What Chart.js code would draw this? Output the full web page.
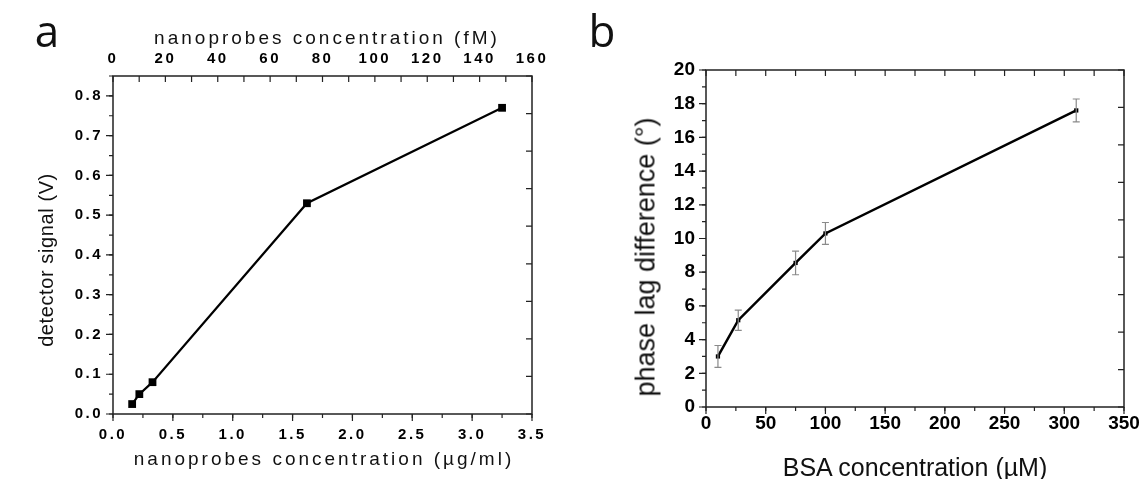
<html>
<head>
<script src="https://cdn.jsdelivr.net/npm/chart.js@4.4.1/dist/chart.umd.min.js"></script>
<style>
 body { margin:0; background:#fff; width:1141px; height:479px; overflow:hidden; position:relative; font-family:"Liberation Sans", Arial, sans-serif; color:#111; }
 .box { position:absolute; top:0; height:479px; }
 .lbl { position:absolute; white-space:nowrap; transform:translate(-50%,-50%); }
 .rot { transform:translate(-50%,-50%) rotate(-90deg); }
</style>
<script>
 // panel a : detector signal vs nanoprobes concentration
 var concA = [0.16, 0.22, 0.33, 1.62, 3.25];      // µg/ml
 var signalA = [0.025, 0.05, 0.08, 0.53, 0.77];   // V
 var xTicksA = [0, 0.5, 1.0, 1.5, 2.0, 2.5, 3.0, 3.5];
 var fmTicksA = [0, 20, 40, 60, 80, 100, 120, 140, 160];
 var yTicksA = [0, 0.1, 0.2, 0.3, 0.4, 0.5, 0.6, 0.7, 0.8];

 // panel b : phase lag difference vs BSA concentration
 var bsaB = [10, 27, 75, 100, 310];               // µM
 var phaseB = [3.0, 5.15, 8.55, 10.3, 17.6];      // degrees
 var errB = [0.65, 0.6, 0.7, 0.65, 0.68];
 var xTicksB = [0, 50, 100, 150, 200, 250, 300, 350];
 var yTicksB = [0, 2, 4, 6, 8, 10, 12, 14, 16, 18, 20];
</script>
</head>
<body>
 <div class="box" style="left:0;width:570px"><canvas id="chartA"></canvas></div>
 <div class="box" style="left:570px;width:571px"><canvas id="chartB"></canvas></div>

 <div class="lbl" style="left:47px;top:30px;font-size:44px;font-family:'Open Sans',sans-serif">a</div>
 <div class="lbl" style="left:327px;top:38px;font-size:19px;letter-spacing:3px">nanoprobes concentration (fM)</div>
 <div class="lbl" style="left:324px;top:459px;font-size:19px;letter-spacing:3px">nanoprobes concentration (µg/ml)</div>
 <div class="lbl rot" style="left:46px;top:260px;font-size:20px;letter-spacing:0.6px">detector signal (V)</div>

 <div class="lbl" style="left:602px;top:30px;font-size:44px;font-family:'Open Sans',sans-serif">b</div>
 <div class="lbl rot" style="left:646px;top:257px;font-size:27px">phase lag difference (°)</div>
 <div class="lbl" style="left:915px;top:467px;font-size:25px">BSA concentration (µM)</div>

<script>
 // frame round the plot, plus major/minor tick marks (len > 0 outward, < 0 inward)
 var frameTicks = {
  id: 'frameTicks',
  afterDraw: function(chart, args, opts) {
   var ctx = chart.ctx, a = chart.chartArea;
   ctx.save();
   ctx.strokeStyle = '#222';
   ctx.lineWidth = 1.5;
   ctx.strokeRect(a.left, a.top, a.right - a.left, a.bottom - a.top);
   ctx.lineWidth = 1.2;
   opts.marks.forEach(function(m) {
    var s = chart.scales[m.scale];
    ctx.beginPath();
    for (var i = 0; ; i++) {
     var v = s.min + i * m.step;
     if (v > s.max + 1e-9) break;
     var p = s.getPixelForValue(v);
     if (m.side == 'bottom') { ctx.moveTo(p, a.bottom); ctx.lineTo(p, a.bottom + m.len); }
     if (m.side == 'top') { ctx.moveTo(p, a.top); ctx.lineTo(p, a.top - m.len); }
     if (m.side == 'left') { ctx.moveTo(a.left, p); ctx.lineTo(a.left - m.len, p); }
     if (m.side == 'right') { ctx.moveTo(a.right, p); ctx.lineTo(a.right + m.len, p); }
    }
    ctx.stroke();
   });
   ctx.restore();
  }
 };

 var spaced = {
  id: 'spaced',
  beforeDraw: function(chart, args, opts) { chart.ctx.letterSpacing = opts.spacing; }
 };

 var errorBars = {
  id: 'errorBars',
  afterDatasetsDraw: function(chart, args, opts) {
   if (!opts.err) return;
   var ctx = chart.ctx, xs = chart.scales.x, ys = chart.scales.y;
   var d = chart.data.datasets[0].data;
   ctx.save();
   ctx.strokeStyle = '#8a8a8a';
   ctx.lineWidth = 1.2;
   ctx.beginPath();
   for (var i = 0; i < d.length; i++) {
    var px = xs.getPixelForValue(d[i].x);
    var top = ys.getPixelForValue(d[i].y + opts.err[i]);
    var bot = ys.getPixelForValue(d[i].y - opts.err[i]);
    ctx.moveTo(px, top); ctx.lineTo(px, bot);
    ctx.moveTo(px - 3.5, top); ctx.lineTo(px + 3.5, top);
    ctx.moveTo(px - 3.5, bot); ctx.lineTo(px + 3.5, bot);
   }
   ctx.stroke();
   ctx.restore();
  }
 };

 function fixed(size) {
  return function(s) {
   if (s.isHorizontal()) s.height = size; else s.width = size;
   s.paddingLeft = s.paddingRight = s.paddingTop = s.paddingBottom = 0;
  };
 }

 function pairs(xs, ys) {
  var out = [];
  for (var i = 0; i < xs.length; i++) out.push({x: xs[i], y: ys[i]});
  return out;
 }

 var fontA = {family: '"Liberation Sans", Arial, sans-serif', size: 15, weight: 'bold'};
 var fontB = {family: '"Liberation Sans", Arial, sans-serif', size: 19, weight: 'bold'};
 var noGrid = {display: false, drawTicks: false};

 new Chart(document.getElementById('chartA'), {
  type: 'scatter',
  data: {
   datasets: [{
    data: pairs(concA, signalA),
    showLine: true,
    borderColor: '#000',
    borderWidth: 2.2,
    backgroundColor: '#000',
    pointStyle: 'rect',
    pointRadius: 5.5,
    pointBorderWidth: 0
   }]
  },
  options: {
   responsive: true,
   maintainAspectRatio: false,
   animation: false,
   layout: {padding: {left: 0, right: 38, top: 0, bottom: 0}},
   plugins: {
    legend: {display: false},
    tooltip: {enabled: false},
    spaced: {spacing: '2.5px'},
    frameTicks: {marks: [
     {scale: 'x', side: 'bottom', step: 0.5, len: 7},
     {scale: 'x', side: 'bottom', step: 0.25, len: 4},
     {scale: 'y', side: 'left', step: 0.1, len: 7},
     {scale: 'y', side: 'left', step: 0.05, len: 4},
     {scale: 'x2', side: 'top', step: 10, len: -6},
     {scale: 'y', side: 'right', step: 0.85 / 9, len: -6}
    ]}
   },
   scales: {
    x: {
     type: 'linear', position: 'bottom', min: 0, max: 3.5,
     afterFit: fixed(65),
     afterBuildTicks: function(s) { s.ticks = xTicksA.map(function(v) { return {value: v}; }); },
     grid: noGrid, border: {display: false},
     ticks: {color: '#000', font: fontA, padding: 12, maxRotation: 0, autoSkip: false,
      callback: function(v) { return v.toFixed(1); }}
    },
    x2: {
     type: 'linear', position: 'top', min: 0, max: 160,
     afterFit: fixed(76),
     afterBuildTicks: function(s) { s.ticks = fmTicksA.map(function(v) { return {value: v}; }); },
     grid: noGrid, border: {display: false},
     ticks: {color: '#000', font: fontA, padding: 8, maxRotation: 0, autoSkip: false}
    },
    y: {
     type: 'linear', min: 0, max: 0.85,
     afterFit: fixed(113),
     afterBuildTicks: function(s) { s.ticks = yTicksA.map(function(v) { return {value: v}; }); },
     grid: noGrid, border: {display: false},
     ticks: {color: '#000', font: fontA, padding: 10, autoSkip: false,
      callback: function(v) { return v.toFixed(1); }}
    }
   }
  },
  plugins: [spaced, frameTicks]
 });

 new Chart(document.getElementById('chartB'), {
  type: 'scatter',
  data: {
   datasets: [{
    data: pairs(bsaB, phaseB),
    showLine: true,
    borderColor: '#000',
    borderWidth: 2.5,
    backgroundColor: '#000',
    pointStyle: 'rect',
    pointRadius: 3,
    pointBorderWidth: 0
   }]
  },
  options: {
   responsive: true,
   maintainAspectRatio: false,
   animation: false,
   layout: {padding: {left: 0, right: 17, top: 70, bottom: 0}},
   plugins: {
    legend: {display: false},
    tooltip: {enabled: false},
    errorBars: {err: errB},
    frameTicks: {marks: [
     {scale: 'x', side: 'bottom', step: 50, len: 7},
     {scale: 'x', side: 'bottom', step: 25, len: 4},
     {scale: 'y', side: 'left', step: 2, len: 7},
     {scale: 'y', side: 'left', step: 1, len: 4},
     {scale: 'x', side: 'top', step: 25, len: -6},
     {scale: 'y', side: 'right', step: 20 / 9, len: -6}
    ]}
   },
   scales: {
    x: {
     type: 'linear', min: 0, max: 350,
     afterFit: fixed(72),
     afterBuildTicks: function(s) { s.ticks = xTicksB.map(function(v) { return {value: v}; }); },
     grid: noGrid, border: {display: false},
     ticks: {color: '#000', font: fontB, padding: 5, maxRotation: 0, autoSkip: false}
    },
    y: {
     type: 'linear', min: 0, max: 20,
     afterFit: fixed(136),
     afterBuildTicks: function(s) { s.ticks = yTicksB.map(function(v) { return {value: v}; }); },
     grid: noGrid, border: {display: false},
     ticks: {color: '#000', font: fontB, padding: 11, autoSkip: false}
    }
   }
  },
  plugins: [errorBars, frameTicks]
 });
</script>
</body>
</html>
